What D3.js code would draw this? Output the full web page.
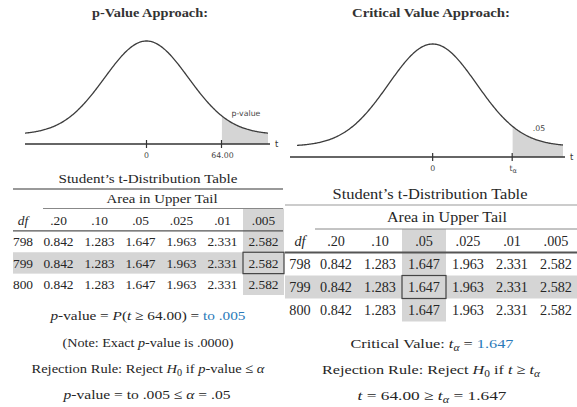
<!DOCTYPE html>
<html lang="en">
<head>
<meta charset="UTF-8">
<title>p-value vs critical value</title>
<style>
  body { margin: 0; background: #fff; }
  svg { display: block; }
  text { font-family: "Liberation Serif", "DejaVu Serif", serif; fill: #262626; }
</style>
</head>
<body>
<script src="https://cdn.jsdelivr.net/npm/d3@7/dist/d3.min.js"></script>
<script>
// table data
const tailCols = ['.20', '.10', '.05', '.025', '.01', '.005'];
const dfRows = [798, 799, 800];
const tValues = [
  [0.842, 1.283, 1.647, 1.963, 2.331, 2.582],
  [0.842, 1.283, 1.647, 1.963, 2.331, 2.582],
  [0.842, 1.283, 1.647, 1.963, 2.331, 2.582]
];
const testStat = '64.00';
const alphaCol = '.05';
const pCol = '.005';
const pickDf = 799;
const critValue = '1.647';

const W = 577, H = 407;
const blue = '#2a7ab9';
const shade = '#d5d5d5';

const svg = d3.select('body').append('svg')
  .attr('width', W).attr('height', H);

// density drawn in the sketches (shape only)
const pdf = z => Math.exp(-z * z / 2) / Math.sqrt(2 * Math.PI);

function fit(sel, len) {
  return sel.attr('textLength', len).attr('lengthAdjust', 'spacingAndGlyphs');
}

function drawCurve(cfg) {
  const g = svg.append('g');
  const x = d3.scaleLinear().domain(cfg.dom).range(cfg.xr);
  const y = d3.scaleLinear().domain([0, pdf(0)]).range(cfg.yr);
  const pts = d3.range(cfg.dom[0], cfg.dom[1] + 0.001, 0.02);

  g.append('path')
    .datum(pts.filter(d => d >= cfg.tail))
    .attr('d', d3.area().x(d => x(d)).y0(cfg.axisY).y1(d => y(pdf(d))))
    .attr('fill', shade);
  g.append('path')
    .datum(pts)
    .attr('d', d3.line().x(d => x(d)).y(d => y(pdf(d))))
    .attr('fill', 'none').attr('stroke', '#3c3c3c').attr('stroke-width', 1.3);

  g.append('line')
    .attr('x1', cfg.axisX[0]).attr('x2', cfg.axisX[1])
    .attr('y1', cfg.axisY).attr('y2', cfg.axisY)
    .attr('stroke', '#333').attr('stroke-width', 1.3);
  g.append('text').attr('x', cfg.axisX[1] + 5).attr('y', cfg.axisY + 3)
    .style('font-family', '"DejaVu Sans", sans-serif').style('font-size', '8.5px')
    .style('fill', '#333').text('t');

  const ticks = [0, cfg.tail];
  g.selectAll('.tk').data(ticks).enter().append('line')
    .attr('x1', d => x(d)).attr('x2', d => x(d))
    .attr('y1', cfg.axisY - 4).attr('y2', cfg.axisY + 4)
    .attr('stroke', '#333').attr('stroke-width', 1.2);

  const lab = g.selectAll('.tl').data(ticks).enter().append('text')
    .attr('x', d => x(d) + (d ? 1 : 0)).attr('y', cfg.axisY + 14)
    .attr('text-anchor', 'middle')
    .style('font-family', '"DejaVu Sans", sans-serif').style('font-size', '7.8px')
    .style('fill', '#444');
  lab.each(function (d, i) {
    const t = d3.select(this);
    if (i === 0) t.text('0');
    else cfg.tickLab(t);
  });

  g.append('text').attr('x', cfg.tagX).attr('y', cfg.tagY)
    .attr('text-anchor', 'middle')
    .style('font-family', '"DejaVu Sans", sans-serif').style('font-size', '7.8px')
    .style('fill', '#444').text(cfg.tag);

  fit(g.append('text').attr('x', cfg.titleX).attr('y', 17)
    .attr('text-anchor', 'middle')
    .style('font-weight', 'bold').style('font-size', '13px')
    .style('fill', '#333').text(cfg.title), cfg.titleLen);
}

drawCurve({
  dom: [-2.9, 2.9], xr: [25, 268], yr: [134.5, 41], axisY: 144,
  axisX: [25, 270], tail: 1.79, tag: 'p-value', tagX: 246, tagY: 116,
  title: 'p-Value Approach:', titleX: 150, titleLen: 116,
  tickLab: t => t.text(testStat)
});
drawCurve({
  dom: [-3.07, 2.95], xr: [297, 563], yr: [146.3, 44], axisY: 157,
  axisX: [290, 565], tail: 1.8, tag: alphaCol, tagX: 539, tagY: 131,
  title: 'Critical Value Approach:', titleX: 431, titleLen: 158,
  tickLab: t => {
    t.append('tspan').text('t');
    t.append('tspan').attr('dy', 2).style('font-size', '6.5px').text('α');
  }
});

function drawTable(cfg) {
  const g = svg.append('g').style('font-size', cfg.fs + 'px');
  const xc = d3.scaleBand().domain(tailCols).range(cfg.colRange);
  const yr = d3.scaleBand().domain(['hdr'].concat(dfRows)).range(cfg.rowRange);
  const bottom = cfg.rowRange[1];

  // highlighted row and column
  g.append('rect')
    .attr('x', cfg.left).attr('width', cfg.right - cfg.left)
    .attr('y', yr(pickDf)).attr('height', yr.bandwidth())
    .attr('fill', shade);
  g.append('rect')
    .attr('x', xc(cfg.hiCol)).attr('width', xc.bandwidth())
    .attr('y', cfg.areaY).attr('height', bottom - cfg.areaY)
    .attr('fill', shade);
  g.append('rect')
    .attr('x', xc(cfg.hiCol)).attr('width', xc.bandwidth())
    .attr('y', yr(pickDf)).attr('height', yr.bandwidth())
    .attr('fill', 'none').attr('stroke', '#444').attr('stroke-width', 1.2);

  // rules
  g.append('line').attr('x1', cfg.left).attr('x2', cfg.right)
    .attr('y1', cfg.topY).attr('y2', cfg.topY)
    .attr('stroke', '#999').attr('stroke-width', cfg.topW);
  g.append('line').attr('x1', cfg.areaX).attr('x2', cfg.right)
    .attr('y1', cfg.areaY).attr('y2', cfg.areaY)
    .attr('stroke', '#888').attr('stroke-width', 1);
  const hy = yr('hdr') + yr.bandwidth();
  g.append('line').attr('x1', cfg.left).attr('x2', cfg.right)
    .attr('y1', hy).attr('y2', hy)
    .attr('stroke', '#555').attr('stroke-width', cfg.hdrW);

  fit(g.append('text').attr('x', cfg.titleX).attr('y', cfg.titleY)
    .attr('text-anchor', 'middle').attr('dy', '0.35em')
    .text('Student\u2019s t-Distribution Table'), cfg.titleLen);
  fit(g.append('text').attr('x', cfg.areaMid).attr('y', (cfg.topY + cfg.areaY) / 2)
    .attr('text-anchor', 'middle').attr('dy', '0.35em')
    .text('Area in Upper Tail'), cfg.areaLen);

  const cy = r => yr(r) + yr.bandwidth() / 2;
  g.append('text').attr('x', cfg.dfX).attr('y', cy('hdr'))
    .attr('text-anchor', 'middle').attr('dy', '0.35em')
    .style('font-style', 'italic').text('df');
  g.selectAll('.ch').data(tailCols).enter().append('text')
    .attr('x', d => xc(d) + xc.bandwidth() / 2).attr('y', cy('hdr'))
    .attr('text-anchor', 'middle').attr('dy', '0.35em').text(d => d);

  dfRows.forEach((r, i) => {
    g.append('text').attr('x', cfg.dfX).attr('y', cy(r))
      .attr('text-anchor', 'middle').attr('dy', '0.35em').text(r);
    g.selectAll('.v' + r).data(tValues[i]).enter().append('text')
      .attr('x', (d, j) => xc(tailCols[j]) + xc.bandwidth() / 2).attr('y', cy(r))
      .attr('text-anchor', 'middle').attr('dy', '0.35em')
      .text(d => d.toFixed(3));
  });
}

drawTable({
  fs: 13.4, left: 13, right: 283, colRange: [38, 284], rowRange: [209.5, 295],
  dfX: 23, hiCol: pCol, topY: 189, topW: 2, areaX: 43, areaY: 208.5,
  hdrW: 1.2, titleX: 148, titleY: 178, titleLen: 179, areaMid: 162, areaLen: 111
});
drawTable({
  fs: 14.2, left: 285, right: 577, colRange: [314, 578], rowRange: [229.5, 321.5],
  dfX: 300, hiCol: alphaCol, topY: 205, topW: 1, areaX: 315, areaY: 229,
  hdrW: 2, titleX: 430, titleY: 194, titleLen: 195, areaMid: 447, areaLen: 120
});

// statements under each table
function mathLine(x, y, len, parts) {
  const t = svg.append('text').attr('x', x).attr('y', y)
    .attr('text-anchor', 'middle').style('font-size', '13.5px');
  let sub = false;
  parts.forEach(p => {
    const s = t.append('tspan').text(p[0]);
    const st = p[1] || '';
    if (st.includes('i')) s.style('font-style', 'italic');
    if (st.includes('b')) s.style('fill', blue);
    if (st.includes('s')) {
      s.attr('dy', sub ? 0 : 3).style('font-size', '9.5px');
      sub = true;
    } else if (sub) {
      s.attr('dy', -3);
      sub = false;
    }
  });
  fit(t, len);
}

mathLine(148, 320, 195, [['p', 'i'], ['-value = '], ['P', 'i'], ['('], ['t', 'i'], [' \u2265 ' + testStat + ') = '], [' to ' + pCol, 'b']]);
mathLine(148, 347, 171, [['(Note: Exact '], ['p', 'i'], ['-value is .0000)']]);
mathLine(148, 373, 233, [['Rejection Rule: Reject '], ['H', 'i'], ['0', 's'], [' if '], ['p', 'i'], ['-value \u2264 '], ['\u03b1', 'i']]);
mathLine(147, 399, 167, [['p', 'i'], ['-value =  to ' + pCol + ' \u2264 '], ['\u03b1', 'i'], [' = ' + alphaCol]]);

mathLine(432, 348, 163, [['Critical Value: '], ['t', 'i'], ['\u03b1', 'is'], [' = '], [critValue, 'b']]);
mathLine(431, 374, 218, [['Rejection Rule: Reject '], ['H', 'i'], ['0', 's'], [' if '], ['t', 'i'], [' \u2265 '], ['t', 'i'], ['\u03b1', 'is']]);
mathLine(432, 400, 149, [['t', 'i'], [' = ' + testStat + ' \u2265 '], ['t', 'i'], ['\u03b1', 'is'], [' = ' + critValue]]);
</script>
</body>
</html>
